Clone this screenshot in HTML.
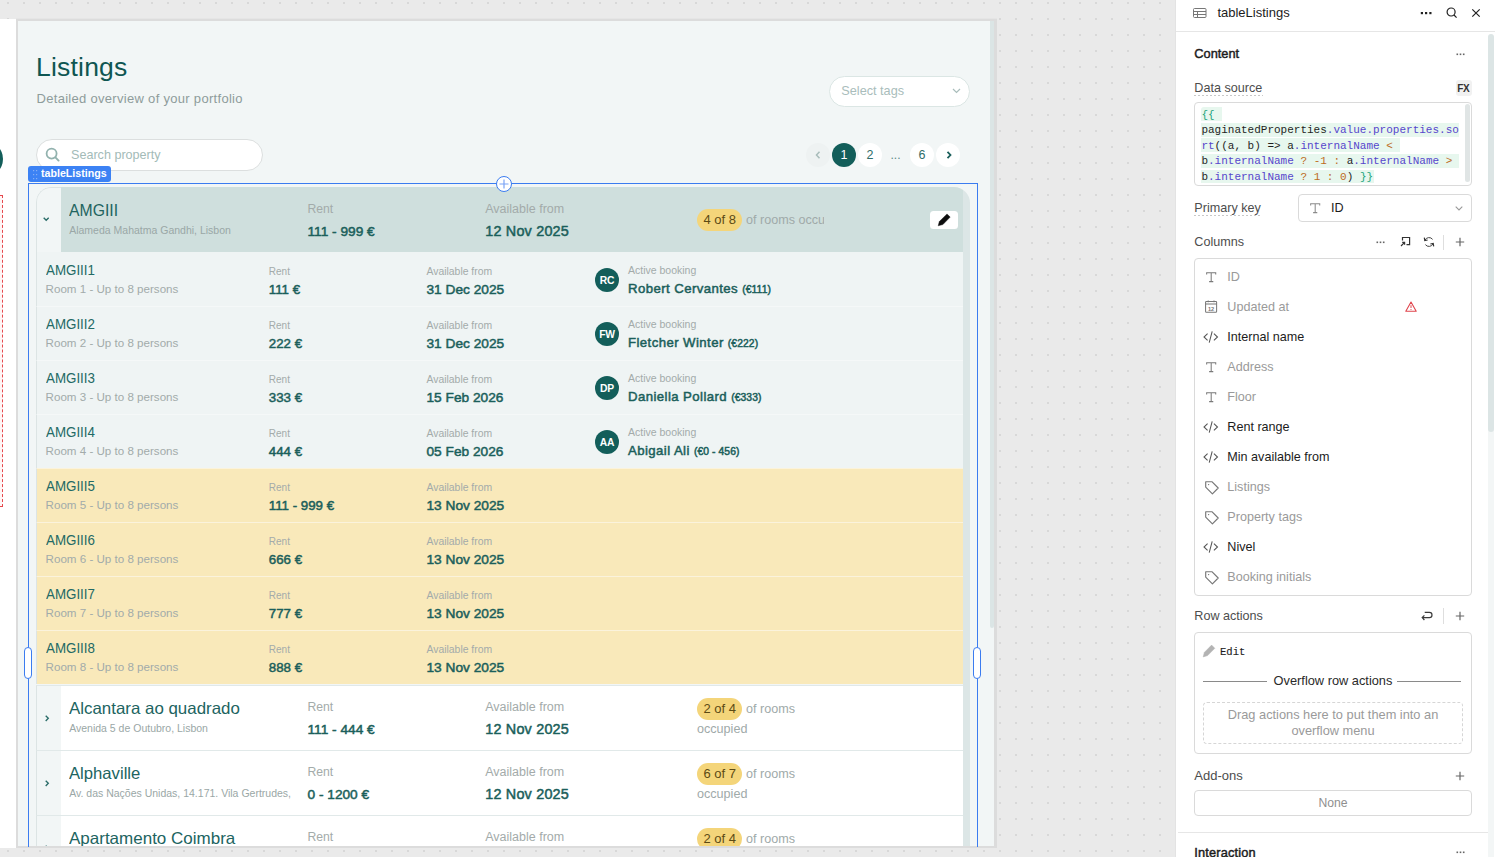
<!DOCTYPE html><html><head><meta charset="utf-8"><title>tableListings</title><style>
:root{--mono:"Liberation Mono", "DejaVu Sans Mono", monospace;}
*{box-sizing:border-box;margin:0;padding:0}
html,body{width:1495px;height:857px;overflow:hidden;background:#eaeaea;font-family:"Liberation Sans", sans-serif;position:relative}
span{position:absolute;white-space:nowrap;line-height:1}
.abs{position:absolute}
svg{position:absolute;overflow:visible}
</style></head><body>
<svg style="left:0;top:0" width="1176" height="857"><defs><pattern id="dots" width="16" height="16" patternUnits="userSpaceOnUse" x="7" y="2"><rect width="2" height="2" fill="#d8d8d8"/></pattern></defs><rect width="1176" height="857" fill="url(#dots)"/></svg>
<div class="abs" style="left:0;top:19px;width:16px;height:829px;background:#fff;overflow:hidden"><div class="abs" style="left:-33px;top:122px;width:36px;height:36px;border-radius:50%;background:#135e5a"></div><div class="abs" style="left:-40px;top:176px;width:43px;height:312px;border:1px dashed #e5484d;background:#fff6f6"></div></div>
<div class="abs" style="left:16px;top:18px;width:981px;height:1px;background:#e5e5e5"></div>
<div class="abs" style="left:16px;top:19px;width:981px;height:829px;border:2px solid #dcdcdc;border-right-width:3px;background:#f2f6f6"></div>
<div class="abs" style="left:990px;top:21px;width:4px;height:607px;background:#dbe5e5;border-radius:0 0 3px 3px"></div>
<span style="left:36px;top:54px;font-size:26.5px;color:#0f5652;letter-spacing:0.2px">Listings</span>
<span style="left:36.5px;top:92px;font-size:13px;color:#8e9c9b;letter-spacing:0.3px">Detailed overview of your portfolio</span>
<div class="abs" style="left:828.5px;top:75.5px;width:141px;height:31px;background:#fff;border:1px solid #dbe6e4;border-radius:16px"></div>
<span style="left:841.3px;top:85px;font-size:12.7px;color:#a9bdbb;">Select tags</span>
<svg style="left:952px;top:88px" width="9" height="6" viewBox="0 0 9 6"><path d="M1 1l3.5 3.5L8 1" fill="none" stroke="#a9bdbb" stroke-width="1.2"/></svg>
<div class="abs" style="left:36px;top:139px;width:227px;height:32px;background:#fff;border:1px solid #dcdfdf;border-radius:16px"></div>
<svg style="left:44.5px;top:147px" width="15" height="15" viewBox="0 0 15 15"><circle cx="6.6" cy="6.6" r="5" fill="none" stroke="#92b2ae" stroke-width="1.8"/><path d="M10.4 10.4L13.6 13.6" stroke="#92b2ae" stroke-width="1.9" stroke-linecap="round"/></svg>
<span style="left:71px;top:149px;font-size:12.6px;color:#a3bbb8;">Search property</span>
<div class="abs" style="left:806.0px;top:143.0px;width:24px;height:24px;background:#eef2f2;border-radius:50%"></div>
<svg style="left:815px;top:151px" width="6" height="8" viewBox="0 0 6 8"><path d="M4.5 0.8L1.5 4l3 3.2" fill="none" stroke="#a8bcba" stroke-width="1.5"/></svg>
<div class="abs" style="left:832.0px;top:143.0px;width:24px;height:24px;background:#135e5a;border-radius:50%"></div>
<span style="left:840.4px;top:149px;font-size:12.5px;color:#fff;">1</span>
<div class="abs" style="left:858.0px;top:143.0px;width:24px;height:24px;background:#fff;border-radius:50%"></div>
<span style="left:866.4px;top:149px;font-size:12.5px;color:#2f6d69;">2</span>
<span style="left:890.5px;top:149px;font-size:12px;color:#5c8a87;">...</span>
<div class="abs" style="left:910.0px;top:143.0px;width:24px;height:24px;background:#fff;border-radius:50%"></div>
<span style="left:918.4px;top:149px;font-size:12.5px;color:#2f6d69;">6</span>
<div class="abs" style="left:936.0px;top:143.0px;width:24px;height:24px;background:#fff;border-radius:50%"></div>
<svg style="left:945.5px;top:151px" width="6" height="8" viewBox="0 0 6 8"><path d="M1.5 0.8L4.5 4l-3 3.2" fill="none" stroke="#1b5f5b" stroke-width="1.8"/></svg>
<div class="abs" style="left:36px;top:187px;width:934px;height:659px;border-radius:15px 16px 0 0;overflow:hidden;background:#f2f6f6">
<div class="abs" style="left:927px;top:0px;width:7px;height:659px;background:#dce6e6"></div>
<div class="abs" style="left:0px;top:0px;width:25px;height:65px;background:#f2f6f6;border-left:1px solid #dce4e4;border-top:1px solid #dce4e4;border-top-left-radius:15px"></div>
<div class="abs" style="left:25px;top:0px;width:902px;height:65px;background:#cfdfdd"></div>
<svg style="left:7.299999999999997px;top:30.400000000000006px" width="7" height="5" viewBox="0 0 7 5"><path d="M0.7 0.7L3.2 3.3L5.7 0.7" fill="none" stroke="#2a6c68" stroke-width="1.35"/></svg>
<span style="left:33.2px;top:15px;font-size:16.5px;color:#21645f;transform:scaleX(0.955);transform-origin:0 0;">AMGIII</span>
<span style="left:33.2px;top:38px;font-size:10.5px;color:#9aa7a6;">Alameda Mahatma Gandhi, Lisbon</span>
<span style="left:271.5px;top:16px;font-size:12.2px;color:#a3abaa;">Rent</span>
<span style="left:271.5px;top:38px;font-size:13.7px;color:#1b5f5b;-webkit-text-stroke:0.5px #1b5f5b;">111 - 999 €</span>
<span style="left:449.2px;top:16px;font-size:12.5px;color:#a3abaa;">Available from</span>
<span style="left:449.2px;top:37px;font-size:14.4px;color:#1b5f5b;-webkit-text-stroke:0.5px #1b5f5b;letter-spacing:0.2px;">12 Nov 2025</span>
<div class="abs" style="left:661px;top:22px;width:45px;height:22px;background:#f4d57a;border-radius:11px"></div>
<span style="left:667.4px;top:26px;font-size:13px;color:#5c4a14;">4 of 8</span>
<div class="abs" style="left:710px;top:23px;width:78px;height:20px;overflow:hidden"><span style="left:0px;top:4px;font-size:12.6px;color:#a0aaa9;">of rooms occupied</span></div>
<div class="abs" style="left:894px;top:23.599999999999994px;width:28.4px;height:18.4px;background:#fff;border-radius:3.5px"></div>
<svg style="left:901px;top:26px" width="15" height="14" viewBox="0 0 15 14"><path d="M1.2 12.8L2.3 8.6L10 0.9L13.2 4.1L5.9 11.6Z" fill="#0d0d0d" stroke="#0d0d0d" stroke-width="0.4" stroke-linejoin="round"/></svg>
<div class="abs" style="left:0px;top:65px;width:927px;height:54px;background:#eff4f4;border-left:1px solid #dce4e4;"></div>
<span style="left:9.6px;top:76px;font-size:14.5px;color:#236a65;transform:scaleX(0.92);transform-origin:0 0;">AMGIII1</span>
<span style="left:9.6px;top:96px;font-size:11.6px;color:#a2abaa;">Room 1 - Up to 8 persons</span>
<span style="left:232.8px;top:80px;font-size:10px;color:#a3abaa;">Rent</span>
<span style="left:232.8px;top:96px;font-size:13.3px;color:#1b5f5b;-webkit-text-stroke:0.5px #1b5f5b;">111 €</span>
<span style="left:390.5px;top:80px;font-size:10.4px;color:#a3abaa;">Available from</span>
<span style="left:390.5px;top:96px;font-size:13.7px;color:#1b5f5b;-webkit-text-stroke:0.5px #1b5f5b;">31 Dec 2025</span>
<div class="abs" style="left:559px;top:81px;width:24px;height:24px;background:#135e5a;border-radius:50%"></div>
<span style="left:559px;top:81px;width:24px;height:24px;line-height:25px;text-align:center;font-size:10.3px;font-weight:700;color:#fff;letter-spacing:-0.2px">RC</span>
<span style="left:592px;top:78px;font-size:10.5px;color:#a3abaa;">Active booking</span>
<span style="left:592px;top:95px;font-size:13.2px;color:#1b5f5b;-webkit-text-stroke:0.5px #1b5f5b;letter-spacing:0.42px;">Robert Cervantes <span style="position:static;font-size:10.3px;letter-spacing:0.1px">(€111)</span></span>
<div class="abs" style="left:0px;top:119px;width:927px;height:54px;background:#eff4f4;border-left:1px solid #dce4e4;border-top:1px solid #f5f8f8;"></div>
<span style="left:9.6px;top:130px;font-size:14.5px;color:#236a65;transform:scaleX(0.92);transform-origin:0 0;">AMGIII2</span>
<span style="left:9.6px;top:150px;font-size:11.6px;color:#a2abaa;">Room 2 - Up to 8 persons</span>
<span style="left:232.8px;top:134px;font-size:10px;color:#a3abaa;">Rent</span>
<span style="left:232.8px;top:150px;font-size:13.3px;color:#1b5f5b;-webkit-text-stroke:0.5px #1b5f5b;">222 €</span>
<span style="left:390.5px;top:134px;font-size:10.4px;color:#a3abaa;">Available from</span>
<span style="left:390.5px;top:150px;font-size:13.7px;color:#1b5f5b;-webkit-text-stroke:0.5px #1b5f5b;">31 Dec 2025</span>
<div class="abs" style="left:559px;top:135px;width:24px;height:24px;background:#135e5a;border-radius:50%"></div>
<span style="left:559px;top:135px;width:24px;height:24px;line-height:25px;text-align:center;font-size:10.3px;font-weight:700;color:#fff;letter-spacing:-0.2px">FW</span>
<span style="left:592px;top:132px;font-size:10.5px;color:#a3abaa;">Active booking</span>
<span style="left:592px;top:149px;font-size:13.2px;color:#1b5f5b;-webkit-text-stroke:0.5px #1b5f5b;letter-spacing:0.42px;">Fletcher Winter <span style="position:static;font-size:10.3px;letter-spacing:0.1px">(€222)</span></span>
<div class="abs" style="left:0px;top:173px;width:927px;height:54px;background:#eff4f4;border-left:1px solid #dce4e4;border-top:1px solid #f5f8f8;"></div>
<span style="left:9.6px;top:184px;font-size:14.5px;color:#236a65;transform:scaleX(0.92);transform-origin:0 0;">AMGIII3</span>
<span style="left:9.6px;top:204px;font-size:11.6px;color:#a2abaa;">Room 3 - Up to 8 persons</span>
<span style="left:232.8px;top:188px;font-size:10px;color:#a3abaa;">Rent</span>
<span style="left:232.8px;top:204px;font-size:13.3px;color:#1b5f5b;-webkit-text-stroke:0.5px #1b5f5b;">333 €</span>
<span style="left:390.5px;top:188px;font-size:10.4px;color:#a3abaa;">Available from</span>
<span style="left:390.5px;top:204px;font-size:13.7px;color:#1b5f5b;-webkit-text-stroke:0.5px #1b5f5b;">15 Feb 2026</span>
<div class="abs" style="left:559px;top:189px;width:24px;height:24px;background:#135e5a;border-radius:50%"></div>
<span style="left:559px;top:189px;width:24px;height:24px;line-height:25px;text-align:center;font-size:10.3px;font-weight:700;color:#fff;letter-spacing:-0.2px">DP</span>
<span style="left:592px;top:186px;font-size:10.5px;color:#a3abaa;">Active booking</span>
<span style="left:592px;top:203px;font-size:13.2px;color:#1b5f5b;-webkit-text-stroke:0.5px #1b5f5b;letter-spacing:0.42px;">Daniella Pollard <span style="position:static;font-size:10.3px;letter-spacing:0.1px">(€333)</span></span>
<div class="abs" style="left:0px;top:227px;width:927px;height:54px;background:#eff4f4;border-left:1px solid #dce4e4;border-top:1px solid #f5f8f8;"></div>
<span style="left:9.6px;top:238px;font-size:14.5px;color:#236a65;transform:scaleX(0.92);transform-origin:0 0;">AMGIII4</span>
<span style="left:9.6px;top:258px;font-size:11.6px;color:#a2abaa;">Room 4 - Up to 8 persons</span>
<span style="left:232.8px;top:242px;font-size:10px;color:#a3abaa;">Rent</span>
<span style="left:232.8px;top:258px;font-size:13.3px;color:#1b5f5b;-webkit-text-stroke:0.5px #1b5f5b;">444 €</span>
<span style="left:390.5px;top:242px;font-size:10.4px;color:#a3abaa;">Available from</span>
<span style="left:390.5px;top:258px;font-size:13.7px;color:#1b5f5b;-webkit-text-stroke:0.5px #1b5f5b;">05 Feb 2026</span>
<div class="abs" style="left:559px;top:243px;width:24px;height:24px;background:#135e5a;border-radius:50%"></div>
<span style="left:559px;top:243px;width:24px;height:24px;line-height:25px;text-align:center;font-size:10.3px;font-weight:700;color:#fff;letter-spacing:-0.2px">AA</span>
<span style="left:592px;top:240px;font-size:10.5px;color:#a3abaa;">Active booking</span>
<span style="left:592px;top:257px;font-size:13.2px;color:#1b5f5b;-webkit-text-stroke:0.5px #1b5f5b;letter-spacing:0.42px;">Abigail Ali <span style="position:static;font-size:10.3px;letter-spacing:0.1px">(€0 - 456)</span></span>
<div class="abs" style="left:0px;top:281px;width:927px;height:54px;background:#f9e9ba;border-left:1px solid #dce4e4;border-top:1px solid #fbf3dc;"></div>
<span style="left:9.6px;top:292px;font-size:14.5px;color:#236a65;transform:scaleX(0.92);transform-origin:0 0;">AMGIII5</span>
<span style="left:9.6px;top:312px;font-size:11.6px;color:#a2abaa;">Room 5 - Up to 8 persons</span>
<span style="left:232.8px;top:296px;font-size:10px;color:#a3abaa;">Rent</span>
<span style="left:232.8px;top:312px;font-size:13.3px;color:#1b5f5b;-webkit-text-stroke:0.5px #1b5f5b;">111 - 999 €</span>
<span style="left:390.5px;top:296px;font-size:10.4px;color:#a3abaa;">Available from</span>
<span style="left:390.5px;top:312px;font-size:13.7px;color:#1b5f5b;-webkit-text-stroke:0.5px #1b5f5b;">13 Nov 2025</span>
<div class="abs" style="left:0px;top:335px;width:927px;height:54px;background:#f9e9ba;border-left:1px solid #dce4e4;border-top:1px solid #fbf3dc;"></div>
<span style="left:9.6px;top:346px;font-size:14.5px;color:#236a65;transform:scaleX(0.92);transform-origin:0 0;">AMGIII6</span>
<span style="left:9.6px;top:366px;font-size:11.6px;color:#a2abaa;">Room 6 - Up to 8 persons</span>
<span style="left:232.8px;top:350px;font-size:10px;color:#a3abaa;">Rent</span>
<span style="left:232.8px;top:366px;font-size:13.3px;color:#1b5f5b;-webkit-text-stroke:0.5px #1b5f5b;">666 €</span>
<span style="left:390.5px;top:350px;font-size:10.4px;color:#a3abaa;">Available from</span>
<span style="left:390.5px;top:366px;font-size:13.7px;color:#1b5f5b;-webkit-text-stroke:0.5px #1b5f5b;">13 Nov 2025</span>
<div class="abs" style="left:0px;top:389px;width:927px;height:54px;background:#f9e9ba;border-left:1px solid #dce4e4;border-top:1px solid #fbf3dc;"></div>
<span style="left:9.6px;top:400px;font-size:14.5px;color:#236a65;transform:scaleX(0.92);transform-origin:0 0;">AMGIII7</span>
<span style="left:9.6px;top:420px;font-size:11.6px;color:#a2abaa;">Room 7 - Up to 8 persons</span>
<span style="left:232.8px;top:404px;font-size:10px;color:#a3abaa;">Rent</span>
<span style="left:232.8px;top:420px;font-size:13.3px;color:#1b5f5b;-webkit-text-stroke:0.5px #1b5f5b;">777 €</span>
<span style="left:390.5px;top:404px;font-size:10.4px;color:#a3abaa;">Available from</span>
<span style="left:390.5px;top:420px;font-size:13.7px;color:#1b5f5b;-webkit-text-stroke:0.5px #1b5f5b;">13 Nov 2025</span>
<div class="abs" style="left:0px;top:443px;width:927px;height:54px;background:#f9e9ba;border-left:1px solid #dce4e4;border-top:1px solid #fbf3dc;"></div>
<span style="left:9.6px;top:454px;font-size:14.5px;color:#236a65;transform:scaleX(0.92);transform-origin:0 0;">AMGIII8</span>
<span style="left:9.6px;top:474px;font-size:11.6px;color:#a2abaa;">Room 8 - Up to 8 persons</span>
<span style="left:232.8px;top:458px;font-size:10px;color:#a3abaa;">Rent</span>
<span style="left:232.8px;top:474px;font-size:13.3px;color:#1b5f5b;-webkit-text-stroke:0.5px #1b5f5b;">888 €</span>
<span style="left:390.5px;top:458px;font-size:10.4px;color:#a3abaa;">Available from</span>
<span style="left:390.5px;top:474px;font-size:13.7px;color:#1b5f5b;-webkit-text-stroke:0.5px #1b5f5b;">13 Nov 2025</span>
<div class="abs" style="left:0px;top:498px;width:927px;height:65px;background:#fff;border-top:1px solid #e1e9e9"></div>
<div class="abs" style="left:0px;top:498px;width:25px;height:65px;background:#f2f6f6;border-left:1px solid #dce4e4;border-top:1px solid #e1e9e9"></div>
<svg style="left:8.600000000000001px;top:528px" width="5" height="7" viewBox="0 0 5 7"><path d="M0.7 0.7L3.3 3.3L0.7 5.9" fill="none" stroke="#2a6c68" stroke-width="1.35"/></svg>
<span style="left:33.2px;top:513px;font-size:16.5px;color:#21645f;transform:scaleX(1.023);transform-origin:0 0;">Alcantara ao quadrado</span>
<div class="abs" style="left:33px;top:534px;width:222px;height:16px;overflow:hidden"><span style="left:0.2px;top:2px;font-size:10.5px;color:#9aa7a6;">Avenida 5 de Outubro, Lisbon</span></div>
<span style="left:271.5px;top:514px;font-size:12.2px;color:#a3abaa;">Rent</span>
<span style="left:271.5px;top:536px;font-size:13.7px;color:#1b5f5b;-webkit-text-stroke:0.5px #1b5f5b;">111 - 444 €</span>
<span style="left:449.2px;top:514px;font-size:12.5px;color:#a3abaa;">Available from</span>
<span style="left:449.2px;top:535px;font-size:14.4px;color:#1b5f5b;-webkit-text-stroke:0.5px #1b5f5b;letter-spacing:0.2px;">12 Nov 2025</span>
<div class="abs" style="left:661px;top:511px;width:45px;height:22px;background:#f4d57a;border-radius:11px"></div>
<span style="left:667.4px;top:515px;font-size:13px;color:#5c4a14;">2 of 4</span>
<span style="left:710px;top:516px;font-size:12.6px;color:#a0aaa9;">of rooms</span>
<span style="left:661px;top:536px;font-size:12.6px;color:#a0aaa9;">occupied</span>
<div class="abs" style="left:0px;top:563px;width:927px;height:65px;background:#fff;border-top:1px solid #e1e9e9"></div>
<div class="abs" style="left:0px;top:563px;width:25px;height:65px;background:#f2f6f6;border-left:1px solid #dce4e4;border-top:1px solid #e1e9e9"></div>
<svg style="left:8.600000000000001px;top:593px" width="5" height="7" viewBox="0 0 5 7"><path d="M0.7 0.7L3.3 3.3L0.7 5.9" fill="none" stroke="#2a6c68" stroke-width="1.35"/></svg>
<span style="left:33.2px;top:578px;font-size:16.5px;color:#21645f;transform:scaleX(1.01);transform-origin:0 0;">Alphaville</span>
<div class="abs" style="left:33px;top:599px;width:222px;height:16px;overflow:hidden"><span style="left:0.2px;top:2px;font-size:10.5px;color:#9aa7a6;">Av. das Nações Unidas, 14.171. Vila Gertrudes, São Paulo</span></div>
<span style="left:271.5px;top:579px;font-size:12.2px;color:#a3abaa;">Rent</span>
<span style="left:271.5px;top:601px;font-size:13.7px;color:#1b5f5b;-webkit-text-stroke:0.5px #1b5f5b;">0 - 1200 €</span>
<span style="left:449.2px;top:579px;font-size:12.5px;color:#a3abaa;">Available from</span>
<span style="left:449.2px;top:600px;font-size:14.4px;color:#1b5f5b;-webkit-text-stroke:0.5px #1b5f5b;letter-spacing:0.2px;">12 Nov 2025</span>
<div class="abs" style="left:661px;top:576px;width:45px;height:22px;background:#f4d57a;border-radius:11px"></div>
<span style="left:667.4px;top:580px;font-size:13px;color:#5c4a14;">6 of 7</span>
<span style="left:710px;top:581px;font-size:12.6px;color:#a0aaa9;">of rooms</span>
<span style="left:661px;top:601px;font-size:12.6px;color:#a0aaa9;">occupied</span>
<div class="abs" style="left:0px;top:628px;width:927px;height:65px;background:#fff;border-top:1px solid #e1e9e9"></div>
<div class="abs" style="left:0px;top:628px;width:25px;height:65px;background:#f2f6f6;border-left:1px solid #dce4e4;border-top:1px solid #e1e9e9"></div>
<svg style="left:8.600000000000001px;top:658px" width="5" height="7" viewBox="0 0 5 7"><path d="M0.7 0.7L3.3 3.3L0.7 5.9" fill="none" stroke="#2a6c68" stroke-width="1.35"/></svg>
<span style="left:33.2px;top:643px;font-size:16.5px;color:#21645f;transform:scaleX(1.03);transform-origin:0 0;">Apartamento Coimbra</span>
<span style="left:271.5px;top:644px;font-size:12.2px;color:#a3abaa;">Rent</span>
<span style="left:449.2px;top:644px;font-size:12.5px;color:#a3abaa;">Available from</span>
<div class="abs" style="left:661px;top:641px;width:45px;height:22px;background:#f4d57a;border-radius:11px"></div>
<span style="left:667.4px;top:645px;font-size:13px;color:#5c4a14;">2 of 4</span>
<span style="left:710px;top:646px;font-size:12.6px;color:#a0aaa9;">of rooms</span>
<span style="left:661px;top:666px;font-size:12.6px;color:#a0aaa9;">occupied</span>
</div>
<div class="abs" style="left:28px;top:183px;width:950px;height:664px;border:1px solid #3b7cf0;border-bottom:none"></div>
<div class="abs" style="left:28px;top:166px;width:83px;height:15.5px;background:#3c82f4;border-radius:3px"></div>
<svg style="left:32.6px;top:169.6px" width="5" height="10" viewBox="0 0 5 10"><g fill="#86adf4"><rect x="0" y="0" width="1.2" height="1.2"/><rect x="3" y="0" width="1.2" height="1.2"/><rect x="0" y="4" width="1.2" height="1.2"/><rect x="3" y="4" width="1.2" height="1.2"/><rect x="0" y="8" width="1.2" height="1.2"/><rect x="3" y="8" width="1.2" height="1.2"/></g></svg>
<span style="left:41.2px;top:168px;font-size:11.5px;color:#fff;font-weight:700;transform:scaleX(0.925);transform-origin:0 0">tableListings</span>
<div class="abs" style="left:496px;top:176px;width:16px;height:16px;background:#fff;border:1.3px solid #3b7cf0;border-radius:50%"></div>
<svg style="left:499px;top:179px" width="10" height="10" viewBox="0 0 10 10"><path d="M5 0.5V9.5M0.5 5H9.5" stroke="#7aa3f5" stroke-width="1.2"/></svg>
<div class="abs" style="left:24px;top:647px;width:8px;height:32px;background:#fff;border:1.3px solid #3b7cf0;border-radius:4px"></div>
<div class="abs" style="left:973px;top:647px;width:8px;height:32px;background:#fff;border:1.3px solid #3b7cf0;border-radius:4px"></div>
<div class="abs" style="left:1175px;top:0px;width:320px;height:857px;background:#fff;border-left:1px solid #e3e3e3"></div>
<div class="abs" style="left:1176px;top:31px;width:319px;height:1px;background:#e6e6e6"></div>
<svg style="left:1193px;top:8px" width="14" height="10" viewBox="0 0 14 10"><g fill="none" stroke="#777" stroke-width="1"><rect x="0.5" y="0.5" width="12.5" height="9" rx="1"/><path d="M0.5 3.5H13M0.5 6.5H13M4.5 3.5V9.5"/></g></svg>
<span style="left:1217.4px;top:6px;font-size:13px;color:#1c1c1c;">tableListings</span>
<svg style="left:1420px;top:11px" width="12" height="4" viewBox="0 0 12 4"><g fill="#222"><rect x="0.8" y="1" width="2.2" height="2.2"/><rect x="5" y="1" width="2.2" height="2.2"/><rect x="9.3" y="1" width="2.2" height="2.2"/></g></svg>
<svg style="left:1446px;top:7px" width="12" height="12" viewBox="0 0 12 12"><circle cx="5.1" cy="5" r="4" fill="none" stroke="#222" stroke-width="1.2"/><path d="M8 8L10.6 10.6" stroke="#222" stroke-width="1.2"/></svg>
<svg style="left:1472px;top:9px" width="8" height="8" viewBox="0 0 8 8"><path d="M0.3 0.3L7.7 7.7M7.7 0.3L0.3 7.7" stroke="#222" stroke-width="1.2"/></svg>
<div class="abs" style="left:1488px;top:40px;width:6px;height:817px;background:#f3f6f6"></div>
<div class="abs" style="left:1488px;top:34px;width:6px;height:398px;background:#dce5e5;border-radius:3px"></div>
<span style="left:1194.3px;top:48px;font-size:12.8px;color:#1c1c1c;-webkit-text-stroke:0.45px #1c1c1c">Content</span>
<svg style="left:1456px;top:53px" width="9.0" height="2.6"><g fill="#666"><rect x="0.5" y="0.5" width="1.6" height="1.6"/><rect x="3.7" y="0.5" width="1.6" height="1.6"/><rect x="6.9" y="0.5" width="1.6" height="1.6"/></g></svg>
<span style="left:1194.3px;top:82px;font-size:12.6px;color:#4d4d4d;">Data source</span>
<div class="abs" style="left:1194px;top:95px;width:69px;height:1px;background:repeating-linear-gradient(to right,#c8c8c8 0 2px,transparent 2px 4px)"></div>
<div class="abs" style="left:1456px;top:80px;width:16px;height:16px;background:#f1f1f1;border-radius:3px"></div>
<span style="left:1457.2px;top:84px;font-size:10px;color:#333;font-weight:700;letter-spacing:-0.3px">FX</span>
<div class="abs" style="left:1194px;top:102px;width:278px;height:84px;background:#fff;border:1px solid #dadada;border-radius:4px"></div>
<div class="abs" style="left:1465px;top:104px;width:5px;height:78px;background:#e0e5e5;border-radius:3px"></div>
<div class="abs" style="left:1201px;top:107.2px;width:20.8px;height:13.8px;background:#e7f7ee;border-top-left-radius:3px"></div>
<span style="left:1201.4px;top:110px;font-size:11px;color:#1f1f1f;font-family:var(--mono);"><b style="font-weight:400;color:#21a37c">{{</b> </span>
<div class="abs" style="left:1201px;top:122.8px;width:258.4px;height:13.8px;background:#e7f7ee"></div>
<span style="left:1201.4px;top:125px;font-size:11px;color:#1f1f1f;font-family:var(--mono);"><b style="font-weight:400;color:#1f1f1f">paginatedProperties</b><b style="font-weight:400;color:#5646cc">.value.properties.so</b></span>
<div class="abs" style="left:1201px;top:138.4px;width:199.0px;height:13.8px;background:#e7f7ee"></div>
<span style="left:1201.4px;top:141px;font-size:11px;color:#1f1f1f;font-family:var(--mono);"><b style="font-weight:400;color:#5646cc">rt</b><b style="font-weight:400;color:#1f1f1f">((a, b) =&gt; a</b><b style="font-weight:400;color:#5646cc">.internalName</b> <b style="font-weight:400;color:#bd6c22">&lt;</b> </span>
<div class="abs" style="left:1201px;top:154.0px;width:258.4px;height:13.8px;background:#e7f7ee"></div>
<span style="left:1201.4px;top:156px;font-size:11px;color:#1f1f1f;font-family:var(--mono);"><b style="font-weight:400;color:#1f1f1f">b</b><b style="font-weight:400;color:#5646cc">.internalName</b> <b style="font-weight:400;color:#bd6c22">? -1 :</b> <b style="font-weight:400;color:#1f1f1f">a</b><b style="font-weight:400;color:#5646cc">.internalName</b> <b style="font-weight:400;color:#bd6c22">&gt;</b> </span>
<div class="abs" style="left:1201px;top:169.6px;width:172.6px;height:13.8px;background:#e7f7ee"></div>
<span style="left:1201.4px;top:172px;font-size:11px;color:#1f1f1f;font-family:var(--mono);"><b style="font-weight:400;color:#1f1f1f">b</b><b style="font-weight:400;color:#5646cc">.internalName</b> <b style="font-weight:400;color:#bd6c22">? 1 : 0</b><b style="font-weight:400;color:#1f1f1f">)</b> <b style="font-weight:400;color:#21a37c">}}</b></span>
<span style="left:1194.3px;top:202px;font-size:12.6px;color:#4d4d4d;">Primary key</span>
<div class="abs" style="left:1194px;top:215px;width:67px;height:1px;background:repeating-linear-gradient(to right,#c8c8c8 0 2px,transparent 2px 4px)"></div>
<div class="abs" style="left:1298px;top:194px;width:174px;height:28px;background:#fff;border:1px solid #dadada;border-radius:4px"></div>
<svg style="left:1309.8px;top:202.8px" width="10.4" height="10.4" viewBox="0 0 11 11"><path d="M0.7 2.6V0.7H10.3V2.6M5.5 0.7V10.2M3.3 10.2H7.7" fill="none" stroke="#8a8a8a" stroke-width="1.1"/></svg>
<span style="left:1331px;top:202px;font-size:12.6px;color:#1c1c1c;">ID</span>
<svg style="left:1455px;top:206px" width="8" height="5" viewBox="0 0 8 5"><path d="M0.7 0.7L4 3.9L7.3 0.7" fill="none" stroke="#999" stroke-width="1.1"/></svg>
<span style="left:1194.3px;top:236px;font-size:12.6px;color:#4d4d4d;">Columns</span>
<svg style="left:1376px;top:241px" width="9.0" height="2.6"><g fill="#666"><rect x="0.5" y="0.5" width="1.6" height="1.6"/><rect x="3.7" y="0.5" width="1.6" height="1.6"/><rect x="6.9" y="0.5" width="1.6" height="1.6"/></g></svg>
<svg style="left:1400px;top:236px" width="11" height="11" viewBox="0 0 11 11"><path d="M2.5 4.5V1.5H9.6V8.6H6.5" fill="none" stroke="#333" stroke-width="1.2"/><path d="M1 10L4.6 6.4M2.2 6.4H4.6V8.8" fill="none" stroke="#333" stroke-width="1.2"/></svg>
<svg style="left:1423px;top:236px" width="12" height="12" viewBox="0 0 12 12"><path d="M2 4.2A4.4 4.4 0 0 1 9.6 3.4M10 7.8A4.4 4.4 0 0 1 2.4 8.6" fill="none" stroke="#444" stroke-width="1"/><path d="M1.3 1.6L1.8 4.6L4.6 4M10.7 10.4L10.2 7.4L7.4 8" fill="none" stroke="#333" stroke-width="1.2"/></svg>
<div class="abs" style="left:1443px;top:234.5px;width:1px;height:15px;background:#dedede"></div>
<svg style="left:1455px;top:237px" width="10" height="10" viewBox="0 0 10 10"><path d="M5 0.8V9.2M0.8 5H9.2" stroke="#666" stroke-width="1.2"/></svg>
<div class="abs" style="left:1194px;top:258px;width:278px;height:338px;background:#fff;border:1px solid #dadada;border-radius:4px"></div>
<svg style="left:1205.7px;top:271.8px" width="10.4" height="10.4" viewBox="0 0 11 11"><path d="M0.7 2.6V0.7H10.3V2.6M5.5 0.7V10.2M3.3 10.2H7.7" fill="none" stroke="#7a7a7a" stroke-width="1.1"/></svg>
<span style="left:1227.3px;top:271px;font-size:12.6px;color:#9a9a9a;">ID</span>
<svg style="left:1204.8px;top:300.2px" width="12.2" height="13.1" viewBox="0 0 13 14"><rect x="0.6" y="1.6" width="11.8" height="11.6" rx="0.8" fill="none" stroke="#777" stroke-width="1.1"/><path d="M0.6 4.2H12.4M3.4 0.5V2.4M9.6 0.5V2.4" stroke="#777" stroke-width="1.1"/><text x="6.5" y="11.4" font-size="6" font-family="Liberation Sans" font-weight="700" text-anchor="middle" fill="#777">12</text></svg>
<span style="left:1227.3px;top:301px;font-size:12.6px;color:#9a9a9a;">Updated at</span>
<svg style="left:1203px;top:331px" width="16" height="12" viewBox="0 0 16 12"><path d="M4.6 2.6L1 6L4.6 9.4M10.9 2.6L14.5 6L10.9 9.4M9.2 0.3L6.2 11.6" fill="none" stroke="#555" stroke-width="1.05"/></svg>
<span style="left:1227.3px;top:331px;font-size:12.6px;color:#1c1c1c;">Internal name</span>
<svg style="left:1205.7px;top:361.8px" width="10.4" height="10.4" viewBox="0 0 11 11"><path d="M0.7 2.6V0.7H10.3V2.6M5.5 0.7V10.2M3.3 10.2H7.7" fill="none" stroke="#7a7a7a" stroke-width="1.1"/></svg>
<span style="left:1227.3px;top:361px;font-size:12.6px;color:#9a9a9a;">Address</span>
<svg style="left:1205.7px;top:391.8px" width="10.4" height="10.4" viewBox="0 0 11 11"><path d="M0.7 2.6V0.7H10.3V2.6M5.5 0.7V10.2M3.3 10.2H7.7" fill="none" stroke="#7a7a7a" stroke-width="1.1"/></svg>
<span style="left:1227.3px;top:391px;font-size:12.6px;color:#9a9a9a;">Floor</span>
<svg style="left:1203px;top:421px" width="16" height="12" viewBox="0 0 16 12"><path d="M4.6 2.6L1 6L4.6 9.4M10.9 2.6L14.5 6L10.9 9.4M9.2 0.3L6.2 11.6" fill="none" stroke="#555" stroke-width="1.05"/></svg>
<span style="left:1227.3px;top:421px;font-size:12.6px;color:#1c1c1c;">Rent range</span>
<svg style="left:1203px;top:451px" width="16" height="12" viewBox="0 0 16 12"><path d="M4.6 2.6L1 6L4.6 9.4M10.9 2.6L14.5 6L10.9 9.4M9.2 0.3L6.2 11.6" fill="none" stroke="#555" stroke-width="1.05"/></svg>
<span style="left:1227.3px;top:451px;font-size:12.6px;color:#1c1c1c;">Min available from</span>
<svg style="left:1204.5px;top:480.5px" width="14" height="14" viewBox="0 0 14 14"><path d="M0.7 0.7H6.9L13.2 7L7.4 12.8L0.7 6.1Z" fill="none" stroke="#777" stroke-width="1.15" stroke-linejoin="round"/><circle cx="3.6" cy="3.6" r="0.7" fill="#777"/></svg>
<span style="left:1227.3px;top:481px;font-size:12.6px;color:#9a9a9a;">Listings</span>
<svg style="left:1204.5px;top:510.5px" width="14" height="14" viewBox="0 0 14 14"><path d="M0.7 0.7H6.9L13.2 7L7.4 12.8L0.7 6.1Z" fill="none" stroke="#777" stroke-width="1.15" stroke-linejoin="round"/><circle cx="3.6" cy="3.6" r="0.7" fill="#777"/></svg>
<span style="left:1227.3px;top:511px;font-size:12.6px;color:#9a9a9a;">Property tags</span>
<svg style="left:1203px;top:541px" width="16" height="12" viewBox="0 0 16 12"><path d="M4.6 2.6L1 6L4.6 9.4M10.9 2.6L14.5 6L10.9 9.4M9.2 0.3L6.2 11.6" fill="none" stroke="#555" stroke-width="1.05"/></svg>
<span style="left:1227.3px;top:541px;font-size:12.6px;color:#1c1c1c;">Nivel</span>
<svg style="left:1204.5px;top:570.5px" width="14" height="14" viewBox="0 0 14 14"><path d="M0.7 0.7H6.9L13.2 7L7.4 12.8L0.7 6.1Z" fill="none" stroke="#777" stroke-width="1.15" stroke-linejoin="round"/><circle cx="3.6" cy="3.6" r="0.7" fill="#777"/></svg>
<span style="left:1227.3px;top:571px;font-size:12.6px;color:#9a9a9a;">Booking initials</span>
<svg style="left:1405px;top:301px" width="12" height="11" viewBox="0 0 12 11"><path d="M6 1L11.2 10.2H0.8Z" fill="none" stroke="#e0444c" stroke-width="1.1" stroke-linejoin="round"/><path d="M6 4.2V7" stroke="#e0444c" stroke-width="1"/><circle cx="6" cy="8.5" r="0.55" fill="#e0444c"/></svg>
<span style="left:1194.3px;top:610px;font-size:12.6px;color:#4d4d4d;">Row actions</span>
<svg style="left:1421px;top:611px" width="12" height="11" viewBox="0 0 12 11"><path d="M3.7 1.4H8.4A2.6 2.6 0 0 1 8.4 6.6H1.3M3.4 4.3L1.2 6.6L3.4 9" fill="none" stroke="#3a3a3a" stroke-width="1.2"/></svg>
<div class="abs" style="left:1443px;top:608px;width:1px;height:16px;background:#dedede"></div>
<svg style="left:1455px;top:610.7px" width="10" height="10" viewBox="0 0 10 10"><path d="M5 0.8V9.2M0.8 5H9.2" stroke="#666" stroke-width="1.2"/></svg>
<div class="abs" style="left:1194px;top:632px;width:278px;height:122px;background:#fff;border:1px solid #dadada;border-radius:4px"></div>
<svg style="left:1202px;top:644px" width="14" height="14" viewBox="0 0 14 14"><path d="M1.2 12.9L2.3 8.4L9.6 1.1L12.8 4.3L5.6 11.6Z" fill="#b3b3b3" stroke="#b3b3b3" stroke-width="0.5" stroke-linejoin="round"/></svg>
<span style="left:1219.7px;top:646px;font-size:11.6px;color:#1e1e1e;font-family:var(--mono);-webkit-text-stroke:0.15px #1e1e1e;transform:scaleX(0.91);transform-origin:0 0">Edit</span>
<div class="abs" style="left:1203px;top:681px;width:64px;height:1px;background:#8a8a8a"></div>
<div class="abs" style="left:1397px;top:681px;width:64px;height:1px;background:#8a8a8a"></div>
<span style="left:1194px;width:278px;text-align:center;top:675px;font-size:12.8px;color:#2a2a2a;">Overflow row actions</span>
<div class="abs" style="left:1203px;top:702px;width:260px;height:42px;border:1px dashed #d6d6d6;border-radius:4px"></div>
<span style="left:1203px;width:260px;text-align:center;top:709px;font-size:12.8px;color:#9a9a9a;">Drag actions here to put them into an</span>
<span style="left:1203px;width:260px;text-align:center;top:725px;font-size:12.8px;color:#9a9a9a;">overflow menu</span>
<span style="left:1194.3px;top:769px;font-size:13px;color:#4d4d4d;">Add-ons</span>
<svg style="left:1455px;top:770.9px" width="10" height="10" viewBox="0 0 10 10"><path d="M5 0.8V9.2M0.8 5H9.2" stroke="#666" stroke-width="1.2"/></svg>
<div class="abs" style="left:1194px;top:790px;width:278px;height:26px;background:#fff;border:1px solid #dadada;border-radius:4px"></div>
<span style="left:1194px;width:278px;text-align:center;top:797px;font-size:12.2px;color:#8f8f8f;">None</span>
<div class="abs" style="left:1178px;top:832px;width:310px;height:1px;background:#e6e6e6"></div>
<span style="left:1194.3px;top:847px;font-size:12.8px;color:#1c1c1c;-webkit-text-stroke:0.45px #1c1c1c;letter-spacing:0.15px">Interaction</span>
<svg style="left:1456px;top:851px" width="9.0" height="2.6"><g fill="#666"><rect x="0.5" y="0.5" width="1.6" height="1.6"/><rect x="3.7" y="0.5" width="1.6" height="1.6"/><rect x="6.9" y="0.5" width="1.6" height="1.6"/></g></svg>
</body></html>
